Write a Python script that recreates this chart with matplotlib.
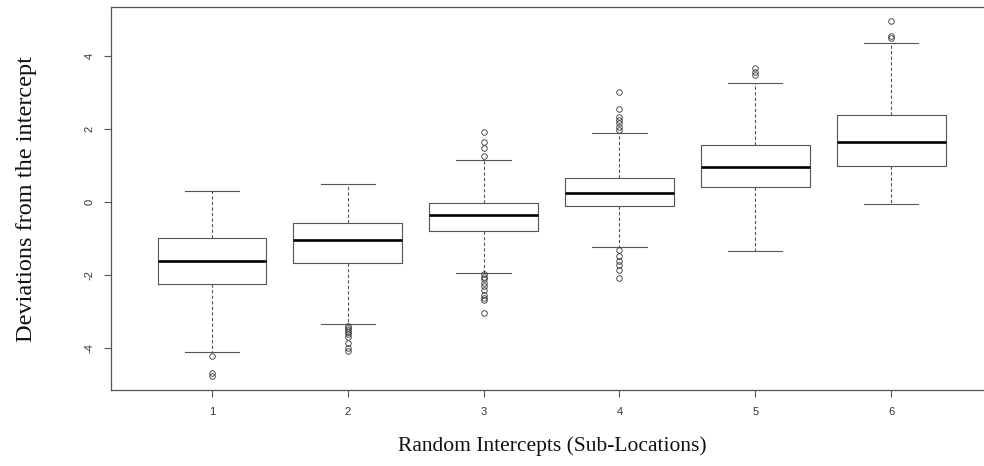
import matplotlib
matplotlib.use("Agg")
import matplotlib.pyplot as plt

groups = ["1", "2", "3", "4", "5", "6"]
medians = [-1.61, -1.03, -0.34, 0.26, 0.97, 1.65]
q1s = [-2.24, -1.67, -0.79, -0.10, 0.43, 1.00]
q3s = [-0.97, -0.57, -0.02, 0.68, 1.57, 2.40]
whis_lo = [-4.11, -3.33, -1.93, -1.23, -1.32, -0.04]
whis_hi = [0.30, 0.51, 1.16, 1.89, 3.27, 4.36]
outliers = [
    [-4.22, -4.68, -4.75],
    [-3.38, -3.45, -3.50, -3.55, -3.60, -3.70, -3.85, -4.00, -4.06],
    [1.94, 1.66, 1.50, 1.27, -1.97, -2.05, -2.10, -2.20, -2.30, -2.40, -2.55, -2.62, -2.68, -3.02],
    [3.03, 2.55, 2.35, 2.25, 2.17, 2.07, 1.98, -1.31, -1.47, -1.60, -1.72, -1.85, -2.08],
    [3.48, 3.58, 3.68],
    [4.50, 4.56, 4.96],
]
yticks = [-4, -2, 0, 2, 4]

plt.rcParams["font.family"] = ["Liberation Sans", "DejaVu Sans"]

fig = plt.figure(figsize=(9.84, 4.66), dpi=100)
ax = fig.add_axes([111 / 984, 76 / 466, 883 / 984, 383 / 466])

stats = []
for i, g in enumerate(groups):
    stats.append(dict(label=g, med=medians[i], q1=q1s[i], q3=q3s[i],
                      whislo=whis_lo[i], whishi=whis_hi[i], fliers=outliers[i]))

gray = "#555555"
ax.bxp(stats, positions=range(1, 7), widths=0.8, showfliers=True,
       boxprops=dict(color=gray, linewidth=0.8),
       medianprops=dict(color="black", linewidth=1.9),
       whiskerprops=dict(color=gray, linewidth=0.8, linestyle=(0, (3, 2))),
       capprops=dict(color=gray, linewidth=0.8),
       capwidths=0.4,
       flierprops=dict(marker="o", markersize=4, markerfacecolor="none",
                       markeredgecolor="#333333", markeredgewidth=0.6))

ax.set_xlim(0.257, 6.757)
ax.set_ylim(-5.14, 5.35)
ax.set_yticks(yticks)
ax.set_yticklabels([str(t) for t in yticks], rotation=90, va="center")
ax.set_xticks(range(1, 7))
ax.set_xticklabels(groups)
ax.tick_params(axis="both", direction="out", length=5, width=0.8, color=gray,
               labelsize=8, labelcolor="#333333", pad=7)
for s in ax.spines.values():
    s.set_color(gray)
    s.set_linewidth(0.9)

ax.set_xlabel("Random Intercepts (Sub-Locations)", family=["Liberation Serif"],
              fontsize=15.5, labelpad=14, color="#111111")
ax.set_ylabel("Deviations from the intercept", family=["Liberation Serif"],
              fontsize=17.5, labelpad=34, color="#111111")

fig.savefig("out.png", dpi=100)
